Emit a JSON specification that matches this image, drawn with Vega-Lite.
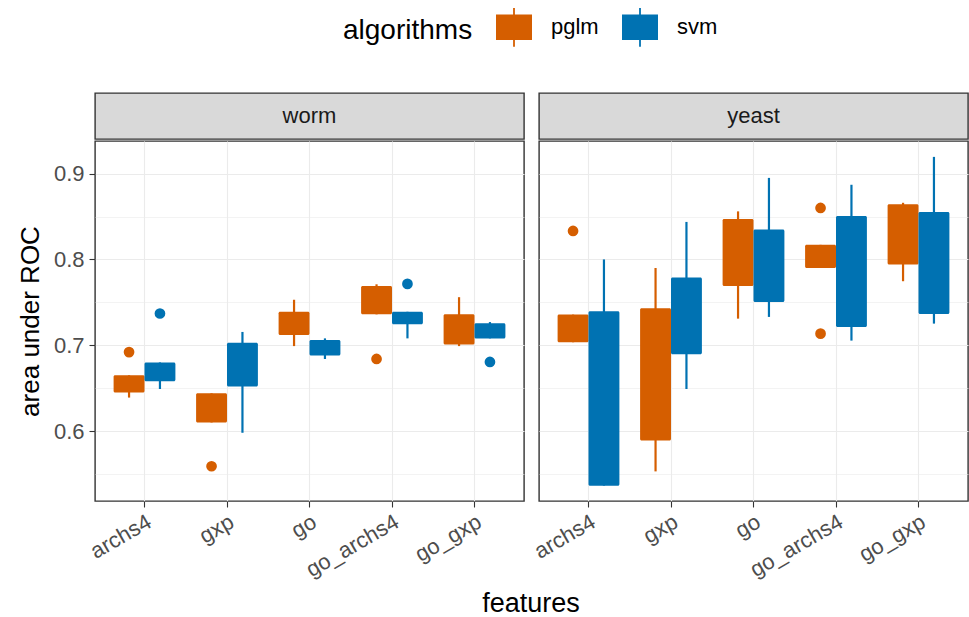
{
  "$schema": "https://vega.github.io/schema/vega-lite/v6.json",
  "background": "white",
  "padding": {"left": 16, "top": 7, "right": 0, "bottom": 2},
  "datasets": {
    "boxes": [
      {"species": "worm", "feature": "archs4", "algorithm": "pglm", "lo": 0.639, "q1": 0.645, "q3": 0.665, "hi": 0.665},
      {"species": "worm", "feature": "archs4", "algorithm": "svm", "lo": 0.649, "q1": 0.658, "q3": 0.680, "hi": 0.680},
      {"species": "worm", "feature": "gxp", "algorithm": "pglm", "lo": 0.610, "q1": 0.610, "q3": 0.644, "hi": 0.644},
      {"species": "worm", "feature": "gxp", "algorithm": "svm", "lo": 0.598, "q1": 0.652, "q3": 0.703, "hi": 0.7155},
      {"species": "worm", "feature": "go", "algorithm": "pglm", "lo": 0.699, "q1": 0.712, "q3": 0.739, "hi": 0.753},
      {"species": "worm", "feature": "go", "algorithm": "svm", "lo": 0.684, "q1": 0.688, "q3": 0.706, "hi": 0.708},
      {"species": "worm", "feature": "go_archs4", "algorithm": "pglm", "lo": 0.736, "q1": 0.736, "q3": 0.769, "hi": 0.771},
      {"species": "worm", "feature": "go_archs4", "algorithm": "svm", "lo": 0.708, "q1": 0.7245, "q3": 0.739, "hi": 0.739},
      {"species": "worm", "feature": "go_gxp", "algorithm": "pglm", "lo": 0.699, "q1": 0.701, "q3": 0.736, "hi": 0.756},
      {"species": "worm", "feature": "go_gxp", "algorithm": "svm", "lo": 0.708, "q1": 0.708, "q3": 0.7256, "hi": 0.727},
      {"species": "yeast", "feature": "archs4", "algorithm": "pglm", "lo": 0.7035, "q1": 0.7035, "q3": 0.7357, "hi": 0.7357},
      {"species": "yeast", "feature": "archs4", "algorithm": "svm", "lo": 0.5364, "q1": 0.5364, "q3": 0.7396, "hi": 0.800},
      {"species": "yeast", "feature": "gxp", "algorithm": "pglm", "lo": 0.553, "q1": 0.589, "q3": 0.743, "hi": 0.790},
      {"species": "yeast", "feature": "gxp", "algorithm": "svm", "lo": 0.649, "q1": 0.6895, "q3": 0.779, "hi": 0.8437},
      {"species": "yeast", "feature": "go", "algorithm": "pglm", "lo": 0.731, "q1": 0.769, "q3": 0.847, "hi": 0.856},
      {"species": "yeast", "feature": "go", "algorithm": "svm", "lo": 0.733, "q1": 0.7505, "q3": 0.835, "hi": 0.895},
      {"species": "yeast", "feature": "go_archs4", "algorithm": "pglm", "lo": 0.790, "q1": 0.790, "q3": 0.817, "hi": 0.817},
      {"species": "yeast", "feature": "go_archs4", "algorithm": "svm", "lo": 0.7054, "q1": 0.7213, "q3": 0.8507, "hi": 0.887},
      {"species": "yeast", "feature": "go_gxp", "algorithm": "pglm", "lo": 0.7746, "q1": 0.794, "q3": 0.8643, "hi": 0.866},
      {"species": "yeast", "feature": "go_gxp", "algorithm": "svm", "lo": 0.7252, "q1": 0.7365, "q3": 0.8554, "hi": 0.9195}
    ],
    "outliers": [
      {"species": "worm", "feature": "archs4", "algorithm": "pglm", "value": 0.692},
      {"species": "worm", "feature": "archs4", "algorithm": "svm", "value": 0.737},
      {"species": "worm", "feature": "gxp", "algorithm": "pglm", "value": 0.559},
      {"species": "worm", "feature": "go_archs4", "algorithm": "pglm", "value": 0.684},
      {"species": "worm", "feature": "go_archs4", "algorithm": "svm", "value": 0.7715},
      {"species": "worm", "feature": "go_gxp", "algorithm": "svm", "value": 0.6805},
      {"species": "yeast", "feature": "archs4", "algorithm": "pglm", "value": 0.8332},
      {"species": "yeast", "feature": "go_archs4", "algorithm": "pglm", "value": 0.860},
      {"species": "yeast", "feature": "go_archs4", "algorithm": "pglm", "value": 0.7135}
    ]
  },
  "title": {"text": "features", "orient": "bottom", "anchor": "middle", "frame": "group", "fontSize": 27, "fontWeight": "normal", "color": "#000000", "offset": 10, "dx": 436},
  "hconcat": [
    {
      "spacing": 0,
      "vconcat": [
        {
          "width": 429, "height": 46,
          "data": {"values": [{"species": "worm"}]},
          "view": {"fill": "#D9D9D9", "stroke": "#333333", "strokeWidth": 1.4},
          "mark": {"type": "text", "fontSize": 22, "color": "#1A1A1A", "baseline": "middle", "align": "center"},
          "encoding": {"text": {"field": "species", "type": "nominal"}}
        },
        {
          "width": 429, "height": 360,
          "view": {"fill": "white", "stroke": "#333333", "strokeWidth": 1.4},
          "encoding": {
            "x": {"field": "feature", "type": "nominal", "sort": ["archs4", "gxp", "go", "go_archs4", "go_gxp"], "title": null,
                  "scale": {"paddingInner": 0, "paddingOuter": 0.1},
                  "axis": {"grid": true, "bandPosition": 0.5, "gridColor": "#EBEBEB", "gridWidth": 1.1, "domain": false, "ticks": true, "tickColor": "#333333", "tickWidth": 1.1, "tickSize": 6, "labelAngle": -30, "labelAlign": "right", "labelBaseline": "top", "labelFontSize": 22, "labelColor": "#4D4D4D", "labelPadding": 4}},
            "xOffset": {"field": "algorithm", "type": "nominal", "scale": {"domain": ["pglm", "svm"], "paddingInner": 0, "paddingOuter": 0.335}},
            "color": {"field": "algorithm", "type": "nominal", "scale": {"domain": ["pglm", "svm"], "range": ["#D55E00", "#0072B2"]}, "title": "algorithms",
                      "legend": {"orient": "none", "legendX": 248, "legendY": -86, "direction": "horizontal", "titleOrient": "left", "titleAnchor": "middle", "titleBaseline": "line-top", "titleLineHeight": 8, "titleFontSize": 28, "titleFontWeight": "normal", "titleColor": "#000000", "titlePadding": 21, "labelFontSize": 22, "labelColor": "#000000", "labelOffset": 17, "columnPadding": 21,
                                 "symbolType": "M-0.9,-0.64H0.9V0.64H-0.9Z M-0.045,-0.97H0.045V-0.64H-0.045Z M-0.045,0.64H0.045V0.97H-0.045Z", "symbolSize": 1600, "symbolStrokeWidth": 0, "symbolOpacity": 1}}
          },
          "layer": [
            {
              "data": {"name": "boxes"},
              "transform": [{"filter": "datum.species === 'worm'"}],
              "mark": {"type": "rule", "strokeWidth": 2.2},
              "encoding": {
                "y": {"field": "lo", "type": "quantitative", "title": "area under ROC", "scale": {"domain": [0.5185, 0.938], "nice": false, "zero": false},
                      "axis": {"values": [0.55, 0.6, 0.65, 0.7, 0.75, 0.8, 0.85, 0.9], "labelExpr": "round(datum.value*100) % 10 == 0 ? format(datum.value, '.1f') : ''", "domain": false, "grid": true, "gridColor": "#EBEBEB", "gridWidth": {"condition": {"test": "round(datum.value*100) % 10 == 0", "value": 1.1}, "value": 0.6}, "tickColor": "#333333", "tickWidth": 1.1, "tickSize": 6, "tickOpacity": {"condition": {"test": "round(datum.value*100) % 10 == 0", "value": 1}, "value": 0}, "labelFontSize": 22, "labelColor": "#4D4D4D", "labelPadding": 5, "titleFontSize": 26, "titleFontWeight": "normal", "titleColor": "#000000", "titlePadding": 10}},
                "y2": {"field": "hi"}
              }
            },
            {
              "data": {"name": "boxes"},
              "transform": [{"filter": "datum.species === 'worm'"}],
              "mark": {"type": "bar", "cornerRadius": 1.5},
              "encoding": {
                "y": {"field": "q1", "type": "quantitative", "title": "area under ROC"},
                "y2": {"field": "q3"}
              }
            },
            {
              "data": {"name": "outliers"},
              "transform": [{"filter": "datum.species === 'worm'"}],
              "mark": {"type": "circle", "size": 115, "opacity": 1},
              "encoding": {
                "y": {"field": "value", "type": "quantitative", "title": "area under ROC"}
              }
            }
          ]
        }
      ]
    },
    {
      "spacing": 0,
      "vconcat": [
        {
          "width": 429, "height": 46,
          "data": {"values": [{"species": "yeast"}]},
          "view": {"fill": "#D9D9D9", "stroke": "#333333", "strokeWidth": 1.4},
          "mark": {"type": "text", "fontSize": 22, "color": "#1A1A1A", "baseline": "middle", "align": "center"},
          "encoding": {"text": {"field": "species", "type": "nominal"}}
        },
        {
          "width": 429, "height": 360,
          "view": {"fill": "white", "stroke": "#333333", "strokeWidth": 1.4},
          "encoding": {
            "x": {"field": "feature", "type": "nominal", "sort": ["archs4", "gxp", "go", "go_archs4", "go_gxp"], "title": null,
                  "scale": {"paddingInner": 0, "paddingOuter": 0.1},
                  "axis": {"grid": true, "bandPosition": 0.5, "gridColor": "#EBEBEB", "gridWidth": 1.1, "domain": false, "ticks": true, "tickColor": "#333333", "tickWidth": 1.1, "tickSize": 6, "labelAngle": -30, "labelAlign": "right", "labelBaseline": "top", "labelFontSize": 22, "labelColor": "#4D4D4D", "labelPadding": 4}},
            "xOffset": {"field": "algorithm", "type": "nominal", "scale": {"domain": ["pglm", "svm"], "paddingInner": 0, "paddingOuter": 0.335}},
            "color": {"field": "algorithm", "type": "nominal", "scale": {"domain": ["pglm", "svm"], "range": ["#D55E00", "#0072B2"]}, "title": "algorithms",
                      "legend": {"orient": "none", "legendX": 248, "legendY": -86, "direction": "horizontal", "titleOrient": "left", "titleAnchor": "middle", "titleBaseline": "line-top", "titleLineHeight": 8, "titleFontSize": 28, "titleFontWeight": "normal", "titleColor": "#000000", "titlePadding": 21, "labelFontSize": 22, "labelColor": "#000000", "labelOffset": 17, "columnPadding": 21,
                                 "symbolType": "M-0.9,-0.64H0.9V0.64H-0.9Z M-0.045,-0.97H0.045V-0.64H-0.045Z M-0.045,0.64H0.045V0.97H-0.045Z", "symbolSize": 1600, "symbolStrokeWidth": 0, "symbolOpacity": 1}}
          },
          "layer": [
            {
              "data": {"name": "boxes"},
              "transform": [{"filter": "datum.species === 'yeast'"}],
              "mark": {"type": "rule", "strokeWidth": 2.2},
              "encoding": {
                "y": {"field": "lo", "type": "quantitative", "title": null, "scale": {"domain": [0.5185, 0.938], "nice": false, "zero": false},
                      "axis": {"values": [0.55, 0.6, 0.65, 0.7, 0.75, 0.8, 0.85, 0.9], "labels": false, "ticks": false, "domain": false, "grid": true, "gridColor": "#EBEBEB", "gridWidth": {"condition": {"test": "round(datum.value*100) % 10 == 0", "value": 1.1}, "value": 0.6}, "title": null}},
                "y2": {"field": "hi"}
              }
            },
            {
              "data": {"name": "boxes"},
              "transform": [{"filter": "datum.species === 'yeast'"}],
              "mark": {"type": "bar", "cornerRadius": 1.5},
              "encoding": {
                "y": {"field": "q1", "type": "quantitative", "title": null},
                "y2": {"field": "q3"}
              }
            },
            {
              "data": {"name": "outliers"},
              "transform": [{"filter": "datum.species === 'yeast'"}],
              "mark": {"type": "circle", "size": 115, "opacity": 1},
              "encoding": {
                "y": {"field": "value", "type": "quantitative", "title": null}
              }
            }
          ]
        }
      ]
    }
  ],
  "spacing": 4,
  "config": {
    "font": "Liberation Sans",
    "view": {"stroke": null},
    "axis": {"labelFont": "Liberation Sans", "titleFont": "Liberation Sans"},
    "legend": {"labelFont": "Liberation Sans", "titleFont": "Liberation Sans"},
    "title": {"font": "Liberation Sans"}
  }
}
